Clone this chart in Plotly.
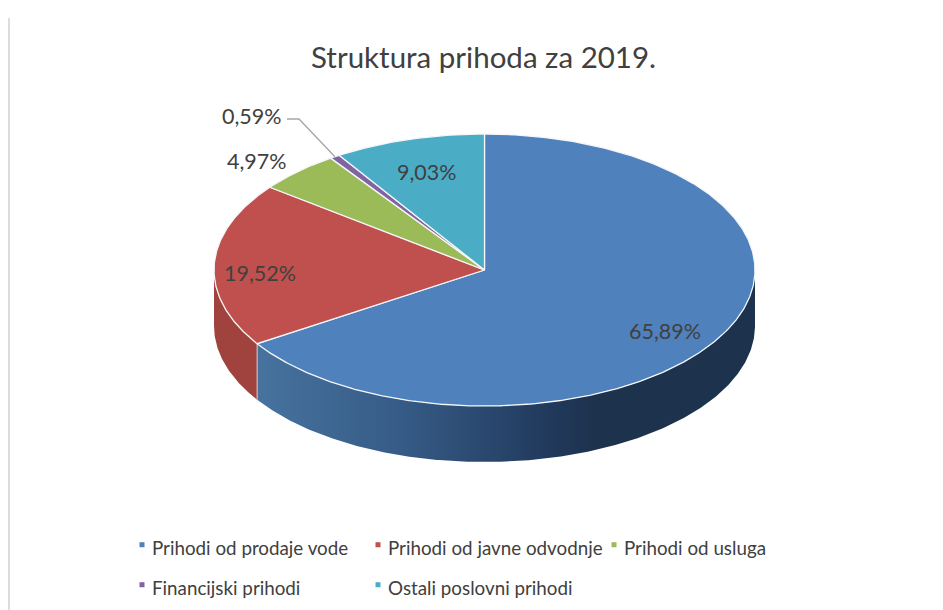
import numpy as np
import plotly.graph_objects as go

# --- data ---
categories = ["Prihodi od prodaje vode", "Prihodi od javne odvodnje", "Prihodi od usluga",
              "Financijski prihodi", "Ostali poslovni prihodi"]
shares = [65.89, 19.52, 4.97, 0.59, 9.03]
title_text = "Struktura prihoda za 2019."

# --- style ---
colors = ["#4f81bd", "#c0504d", "#9bbb59", "#8064a2", "#4bacc6"]
FONT = "Lato"
TXT = "#404040"
W, H = 943, 610
CX, CY, RX, RY, DEPTH = 484.5, 270, 270.5, 136, 56
label_pos = [(665, 331), (260, 273), (257, 161), (252, 116), (427, 172)]
legend_rows = [[0, 1, 2], [3, 4]]


def arc(a0, a1, dy=0.0):
    th = np.radians(np.linspace(a0, a1, max(int(abs(a1 - a0) * 2), 2) + 1))
    return CX + RX * np.sin(th), CY + dy - RY * np.cos(th)


edges = np.concatenate([[0], np.cumsum(shares)]) / sum(shares) * 360
fig = go.Figure()

# side walls
blue_end, red_end = edges[1], edges[2]
x1, y1 = arc(90, blue_end)
x2, y2 = arc(blue_end, 90, DEPTH)
fig.add_trace(go.Scatter(
    x=np.r_[x1, x2], y=np.r_[y1, y2], mode="lines", fill="toself", line=dict(width=0),
    fillgradient=dict(type="horizontal", start=257, stop=755,
                      colorscale=[[0, "#47739f"], [0.3, "#355a85"], [0.6, "#20385a"],
                                  [0.68, "#1d324c"], [1, "#1d324c"]]),
    fillcolor="#1d324c", showlegend=False, hoverinfo="skip"))
x1, y1 = arc(blue_end, 270)
x2, y2 = arc(270, blue_end, DEPTH)
fig.add_trace(go.Scatter(
    x=np.r_[x1, x2], y=np.r_[y1, y2], mode="lines", fill="toself", line=dict(width=0),
    fillcolor="#a0433f", showlegend=False, hoverinfo="skip"))
# seam between the two walls
sx, sy = arc(blue_end, blue_end)
fig.add_trace(go.Scatter(x=[sx[0], sx[0]], y=[sy[0], sy[0] + DEPTH], mode="lines",
                         line=dict(color="#d9c9c9", width=1), showlegend=False, hoverinfo="skip"))

# top slices
for i, c in enumerate(colors):
    ax, ay = arc(edges[i], edges[i + 1])
    fig.add_trace(go.Scatter(
        x=np.r_[CX, ax, CX], y=np.r_[CY, ay, CY], mode="lines", fill="toself",
        fillcolor=c, line=dict(color="#f4f6f8", width=1.3), showlegend=False, hoverinfo="skip"))

# leader line for the smallest slice
lx, ly = arc((edges[3] + edges[4]) / 2, (edges[3] + edges[4]) / 2)
fig.add_trace(go.Scatter(x=[287, 299, lx[0]], y=[119, 119, ly[0]], mode="lines",
                         line=dict(color="#a6a6a6", width=1.3), showlegend=False, hoverinfo="skip"))

# legend entries
for row, idxs in enumerate(legend_rows):
    for i in idxs:
        fig.add_trace(go.Scatter(
            x=[None], y=[None], mode="markers", name=categories[i],
            marker=dict(symbol="square", size=5, color=colors[i]),
            legend="legend" if row == 0 else "legend2", hoverinfo="skip"))

annots = [dict(x=p[0], y=p[1], text=f"{v:.2f}%".replace(".", ","), showarrow=False,
               font=dict(family=FONT, size=21.5, color=TXT), xanchor="center", yanchor="middle")
          for p, v in zip(label_pos, shares)]
annots.append(dict(x=483.5, y=56, text=title_text, showarrow=False,
                   font=dict(family=FONT, size=29.5, color=TXT), xanchor="center", yanchor="middle"))

leg = dict(orientation="h", xanchor="left", yanchor="middle", entrywidth=191, entrywidthmode="pixels",
           itemwidth=30, font=dict(family=FONT, size=18.8, color=TXT), bgcolor="rgba(0,0,0,0)",
           traceorder="normal", itemclick=False, itemdoubleclick=False)

fig.update_layout(
    width=W, height=H, autosize=False, margin=dict(l=0, r=0, t=0, b=0),
    paper_bgcolor="white", plot_bgcolor="white",
    xaxis=dict(range=[0, W], visible=False, fixedrange=True),
    yaxis=dict(range=[H, 0], visible=False, fixedrange=True),
    annotations=annots,
    legend=dict(leg, x=112 / W, y=1 - 548 / H),
    legend2=dict(leg, x=112 / W, y=1 - 588 / H),
    shapes=[dict(type="line", xref="x", yref="y", x0=9, x1=9, y0=18, y1=H,
                 line=dict(color="#dcdcdc", width=2))],
)
post = """
document.body.style.margin = '0';
document.querySelectorAll('.legendsymbols').forEach(function (el) {
  el.setAttribute('transform', 'translate(10,-3)');
});
"""
fig.write_html("out.html", config=dict(displayModeBar=False), post_script=post)
